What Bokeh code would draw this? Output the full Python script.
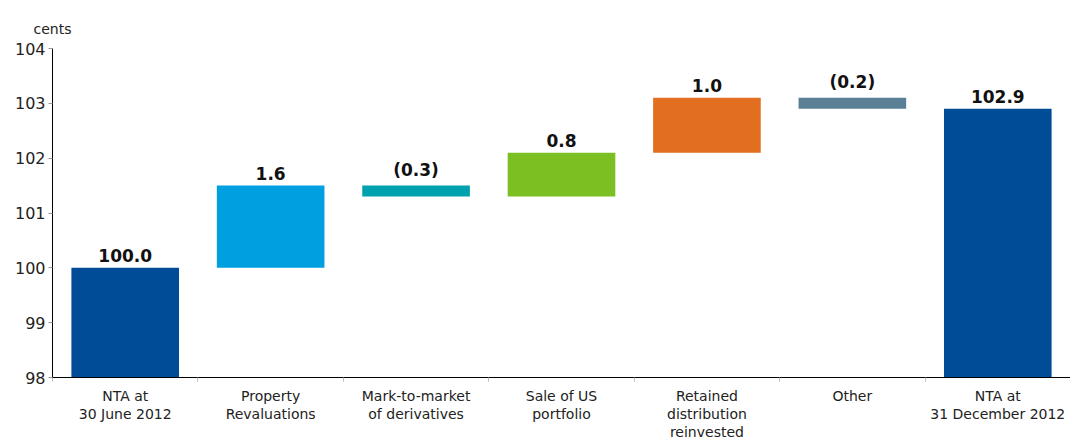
from bokeh.plotting import figure
from bokeh.models import (ColumnDataSource, FactorRange, Range1d, LinearAxis, CategoricalAxis,
                          FixedTicker, Title, LabelSet)
from bokeh.core.properties import value
from bokeh.embed import file_html
from bokeh.resources import INLINE

categories = ["NTA at\n30 June 2012", "Property\nRevaluations", "Mark-to-market\nof derivatives",
              "Sale of US\nportfolio", "Retained\ndistribution\nreinvested", "Other",
              "NTA at\n31 December 2012"]
bar_bottoms = [98.0, 100.0, 101.3, 101.3, 102.1, 102.9, 98.0]
bar_tops = [100.0, 101.5, 101.5, 102.1, 103.1, 103.1, 102.9]
value_labels = ["100.0", "1.6", "(0.3)", "0.8", "1.0", "(0.2)", "102.9"]
colors = ["#004C97", "#009FE0", "#00A1AF", "#7BBF23", "#E26E1F", "#5B8095", "#004C97"]
y_ticks = [98, 99, 100, 101, 102, 103, 104]

FONT = "DejaVu Sans"

src = ColumnDataSource(dict(cat=categories, bottom=bar_bottoms, top=bar_tops,
                            lab=value_labels, color=colors))

p = figure(width=1070, height=443, x_range=FactorRange(*categories),
           y_range=Range1d(y_ticks[0], y_ticks[-1]), output_backend="svg",
           toolbar_location=None, x_axis_location=None, y_axis_location="left",
           min_border_left=52, min_border_right=0, min_border_top=48, min_border_bottom=63)
p.outline_line_color = None
p.xgrid.grid_line_color = None
p.ygrid.grid_line_color = None

p.title = Title(text="cents", align="left", offset=-19, text_font_size="14px",
                text_font_style="normal", text_font=FONT, text_color="#222222", standoff=24)

p.vbar(x="cat", bottom="bottom", top="top", width=0.74, color="color", line_color=None, source=src)

labels = LabelSet(x="cat", y="top", text="lab", source=src, text_align="center",
                  text_baseline="bottom", y_offset=6, text_font_size="17px",
                  text_font_style="bold", text_font=value(FONT), text_color="#111111")
p.add_layout(labels)

ya = p.yaxis[0]
ya.ticker = FixedTicker(ticks=y_ticks)
ya.axis_line_color = "black"
ya.major_tick_line_color = "#999999"
ya.major_tick_out = 4
ya.major_tick_in = 0
ya.minor_tick_line_color = None
ya.major_label_standoff = 3
ya.major_label_text_font = FONT
ya.major_label_text_font_size = "16px"
ya.major_label_text_color = "#222222"

# boundary ticks between categories (synthetic coordinates of the factor range)
sep_axis = LinearAxis(ticker=FixedTicker(ticks=list(range(len(categories) + 1))),
                      axis_line_color="black", major_tick_line_color="#BBBBBB",
                      major_tick_out=4, major_tick_in=0, minor_tick_line_color=None,
                      major_label_text_font_size="1px", major_label_text_color=None,
                      major_label_standoff=0)
p.add_layout(sep_axis, "below")

cat_axis = CategoricalAxis(axis_line_color=None, major_tick_line_color=None,
                           minor_tick_line_color=None, major_label_standoff=0,
                           major_label_text_font=FONT, major_label_text_font_size="14px",
                           major_label_text_color="#222222", major_label_text_line_height=1.15)
p.add_layout(cat_axis, "below")

open("out.html", "w").write(file_html(p, INLINE))
